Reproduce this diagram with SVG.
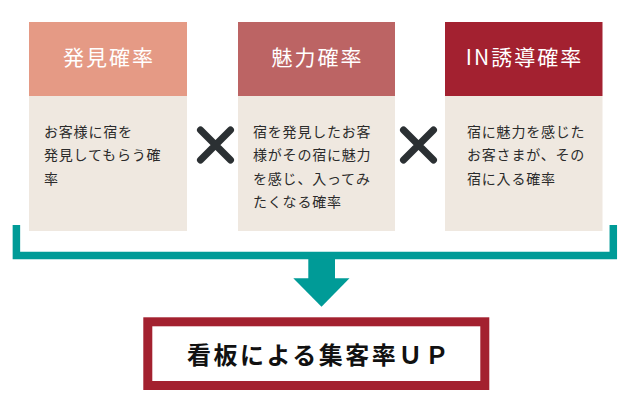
<svg xmlns="http://www.w3.org/2000/svg" width="630" height="420" viewBox="0 0 630 420">
<style>
.hd{font-family:"Noto Sans CJK JP","Noto Sans",sans-serif;font-size:21px;fill:#ffffff;letter-spacing:2px;text-anchor:middle}
.bd{font-family:"Noto Sans CJK JP","Noto Sans",sans-serif;font-size:14px;fill:#2b2b2b;letter-spacing:0.8px}
.body{fill:#efe8e0}
.x{stroke:#2b3033;stroke-width:7;stroke-linecap:round;fill:none}
.res{font-family:"Noto Sans CJK JP","Noto Sans",sans-serif;font-size:24px;font-weight:bold;fill:#111111;letter-spacing:2.5px}
</style>
<rect width="630" height="420" fill="#ffffff"/>
<g id="node-discovery">
<rect class="body" x="29" y="96" width="158" height="135"/>
<rect x="29" y="22" width="158" height="74" fill="#e59a85"/>
<text class="hd" x="109" y="65">発見確率</text>
<text class="bd" x="44" y="137">お客様に宿を</text>
<text class="bd" x="44" y="160.3">発見してもらう確</text>
<text class="bd" x="44" y="183.6">率</text>
</g>
<g id="node-attraction">
<rect class="body" x="238" y="96" width="157" height="135"/>
<rect x="238" y="22" width="157" height="74" fill="#bc6464"/>
<text class="hd" x="317.5" y="65">魅力確率</text>
<text class="bd" x="253" y="137">宿を発見したお客</text>
<text class="bd" x="253" y="160.3">様がその宿に魅力</text>
<text class="bd" x="253" y="183.6">を感じ、入ってみ</text>
<text class="bd" x="253" y="207">たくなる確率</text>
</g>
<g id="node-induction">
<rect class="body" x="445" y="96" width="157.5" height="135"/>
<rect x="445" y="22" width="157.5" height="74" fill="#a32130"/>
<text class="hd" x="524.5" y="65">IN誘導確率</text>
<text class="bd" x="467" y="137">宿に魅力を感じた</text>
<text class="bd" x="467" y="160.3">お客さまが、その</text>
<text class="bd" x="467" y="183.6">宿に入る確率</text>
</g>
<g id="times-1">
<path class="x" d="M200.5 130 L230.5 160 M230.5 130 L200.5 160"/>
</g>
<g id="times-2">
<path class="x" d="M403.5 130 L433.5 160 M433.5 130 L403.5 160"/>
</g>
<g id="connectors">
<path d="M16.4 225 V255.4 H613.3 V225" fill="none" stroke="#009b97" stroke-width="7.5"/>
<rect x="308.3" y="255" width="26.7" height="24" fill="#009b97"/>
<polygon points="293.3,278.3 349.5,278.3 321.5,306.7" fill="#009b97"/>
</g>
<g id="node-result">
<rect x="147.8" y="321.8" width="337" height="63.7" fill="#ffffff" stroke="#a3212f" stroke-width="9"/>
<text class="res" x="187" y="364">看板による集客率ＵＰ</text>
</g>
</svg>
